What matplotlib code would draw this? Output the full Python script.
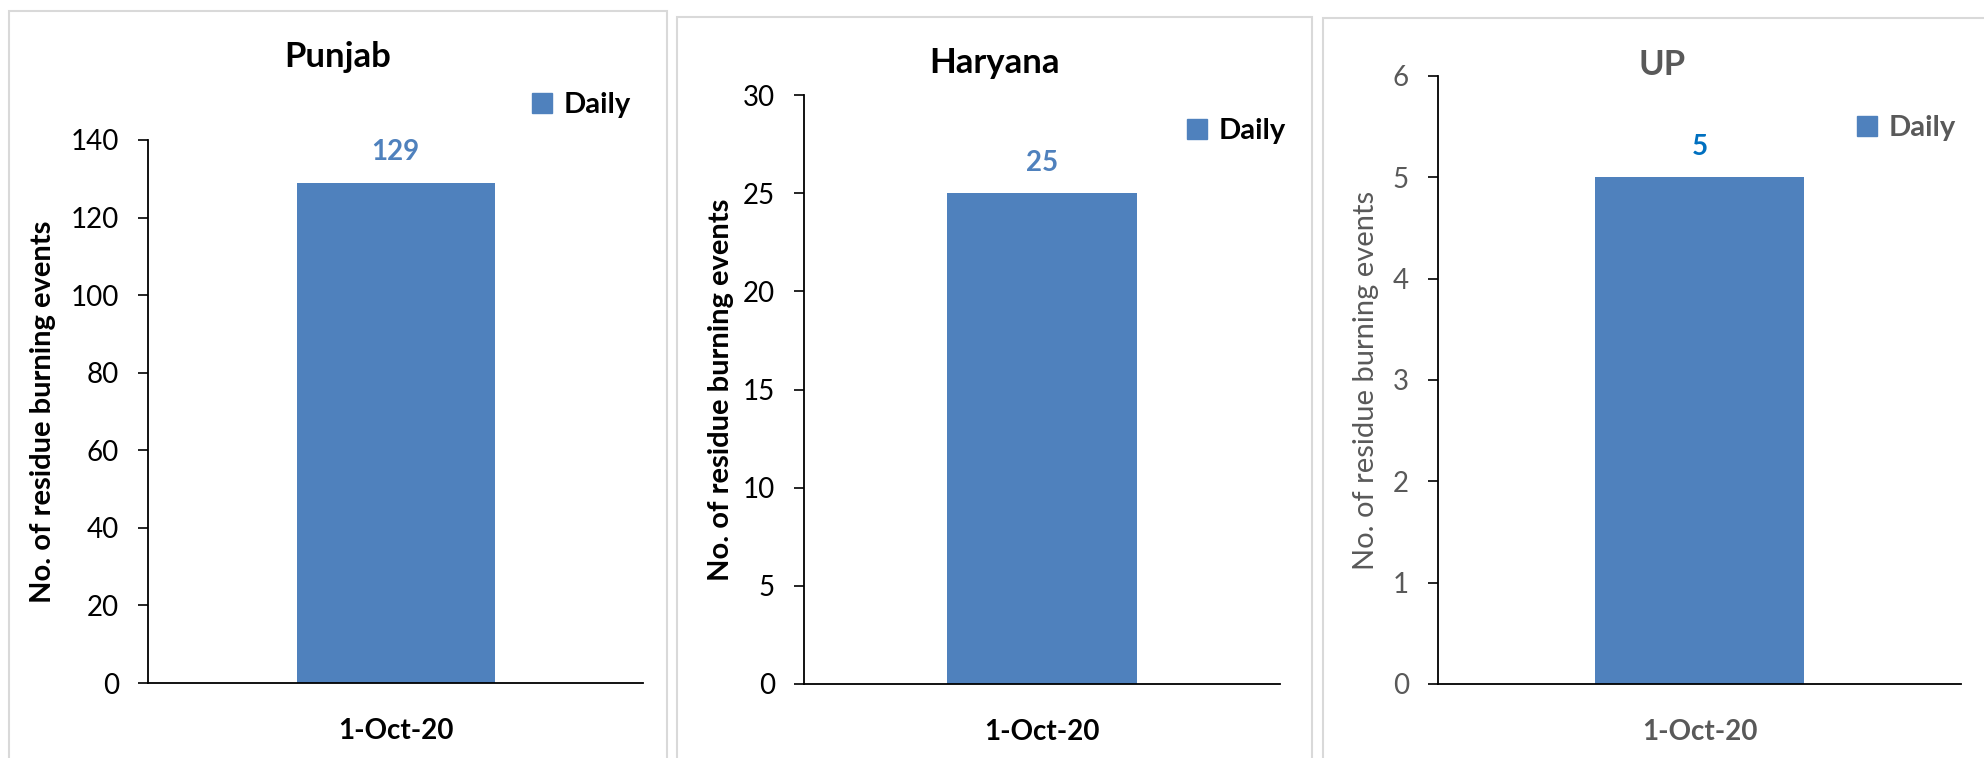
import matplotlib.pyplot as plt
from matplotlib.patches import Patch, Rectangle

# data
dates = ["1-Oct-20"]
states = ["Punjab", "Haryana", "UP"]
punjab_daily = [129]
haryana_daily = [25]
up_daily = [5]
y_max = [140, 30, 6]
y_step = [20, 5, 1]

plt.rcParams['font.family'] = ['Lato', 'DejaVu Sans']

W, H = 1984, 758
fig = plt.figure(figsize=(W / 100, H / 100), dpi=100)

bar_color = "#4F81BD"

# layout in pixels: frame (x0, x1, top), axes (x0, x1, top, bottom),
# title (x, baseline y), legend (x, y), ylabel x
panels = [
    dict(frame=(9, 667, 11), ax=(148, 643, 140, 683), title=(338, 67),
         legend=(532, 105), ylab=43, text="black", value="#4F81BD", bold_lab=True),
    dict(frame=(677, 1312, 17), ax=(804, 1280, 95, 684), title=(994, 73),
         legend=(1187, 131), ylab=721, text="black", value="#4F81BD", bold_lab=True),
    dict(frame=(1323, 2001, 18), ax=(1438, 1961, 76, 684), title=(1662, 75),
         legend=(1857, 128), ylab=1366, text="#595959", value="#0070C0", bold_lab=False),
]
values = [punjab_daily, haryana_daily, up_daily]

for i, p in enumerate(panels):
    fx0, fx1, ftop = p["frame"]
    fig.patches.append(Rectangle((fx0 / W, -0.05), (fx1 - fx0) / W, (H - ftop) / H + 0.05,
                                 transform=fig.transFigure, facecolor="white",
                                 edgecolor="#D9D9D9", linewidth=1.5, zorder=-1))

    x0, x1, top, bottom = p["ax"]
    ax = fig.add_axes([x0 / W, (H - bottom) / H, (x1 - x0) / W, (bottom - top) / H])
    ax.set_zorder(1)
    ax.patch.set_alpha(0)
    bars = ax.bar(range(len(dates)), values[i], width=0.4, color=bar_color)
    ax.set_xlim(-0.5, 0.5)
    ax.set_ylim(0, y_max[i])
    ax.set_yticks(range(0, y_max[i] + 1, y_step[i]))
    ax.set_xticks(range(len(dates)))
    ax.set_xticklabels(dates, fontsize=20, fontweight="bold", color=p["text"])
    ax.tick_params(axis="x", length=0, pad=25)
    ax.tick_params(axis="y", length=7, width=1.2, pad=14, labelsize=20,
                   labelcolor=p["text"], color="black")
    for side in ("top", "right"):
        ax.spines[side].set_visible(False)
    for side in ("left", "bottom"):
        ax.spines[side].set_linewidth(1.3)
        ax.spines[side].set_color("black")

    for b, v in zip(bars, values[i]):
        ax.annotate(str(v), (b.get_x() + b.get_width() / 2, v), xytext=(0, 22),
                    textcoords="offset points", ha="center", va="center",
                    fontsize=20, fontweight="bold", color=p["value"])

    ax.set_ylabel("No. of residue burning events", fontsize=21, va="center",
                  fontweight="bold" if p["bold_lab"] else "normal", color=p["text"])
    ax.yaxis.set_label_coords(p["ylab"] / W, (H - (top + bottom) / 2) / H,
                              transform=fig.transFigure)

    tx, ty = p["title"]
    fig.text(tx / W, (H - ty) / H, states[i], ha="center", va="baseline",
             fontsize=25, fontweight="bold", color=p["text"])

    lx, ly = p["legend"]
    ax.legend(handles=[Patch(color=bar_color, label="Daily")], loc="center left",
              bbox_to_anchor=(lx / W, (H - ly) / H), bbox_transform=fig.transFigure,
              frameon=False, borderpad=0, borderaxespad=0, handlelength=0.7,
              handleheight=0.7, handletextpad=0.4,
              prop=dict(size=21, weight="bold"), labelcolor=p["text"])

fig.savefig("out.png", dpi=100)
